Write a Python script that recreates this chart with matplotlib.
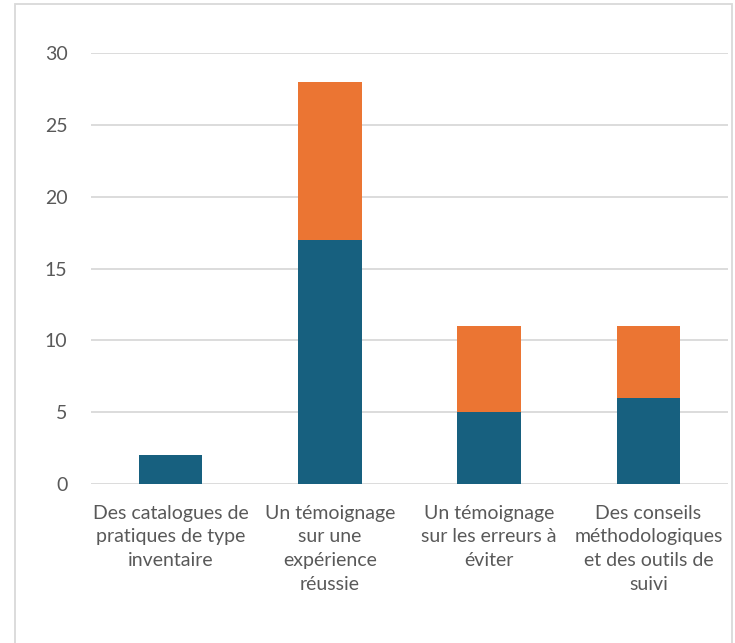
import matplotlib.pyplot as plt
from matplotlib.patches import Rectangle

categories = [
    "Des catalogues de\npratiques de type\ninventaire",
    "Un témoignage\nsur une\nexpérience\nréussie",
    "Un témoignage\nsur les erreurs à\néviter",
    "Des conseils\nméthodologiques\net des outils de\nsuivi",
]
serie_1 = [2, 17, 5, 6]
serie_2 = [0, 11, 6, 5]
yticks = [0, 5, 10, 15, 20, 25, 30]

plt.rcParams['font.family'] = ['Lato', 'DejaVu Sans']

fig = plt.figure(figsize=(7.35, 6.43), dpi=100)
ax = fig.add_axes([91 / 735, 1 - 484 / 643, (728 - 91) / 735, (484 - 53) / 643])

x = range(len(categories))
ax.bar(x, serie_1, width=0.4, color="#17607f", zorder=3)
ax.bar(x, serie_2, width=0.4, bottom=serie_1, color="#eb7533", zorder=3)

ax.set_xlim(-0.5, 3.5)
ax.set_ylim(0, 30)
ax.set_yticks(yticks)
ax.set_xticks(list(x))
ax.set_xticklabels(categories, linespacing=1.47)
ax.grid(axis="y", color="#d9d9d9", linewidth=1.3, zorder=0)
for s in ax.spines.values():
    s.set_visible(False)
ax.tick_params(axis="both", length=0, colors="#595959", labelsize=14)
ax.tick_params(axis="y", pad=17)
ax.tick_params(axis="x", pad=15)

# chart border
fig.patches.append(Rectangle((15 / 735, -0.05), (732 - 15) / 735, 1 - 4 / 643 + 0.05,
                             transform=fig.transFigure, fill=False,
                             edgecolor="#d9d9d9", linewidth=1.3))

fig.savefig("out.png", dpi=100)
